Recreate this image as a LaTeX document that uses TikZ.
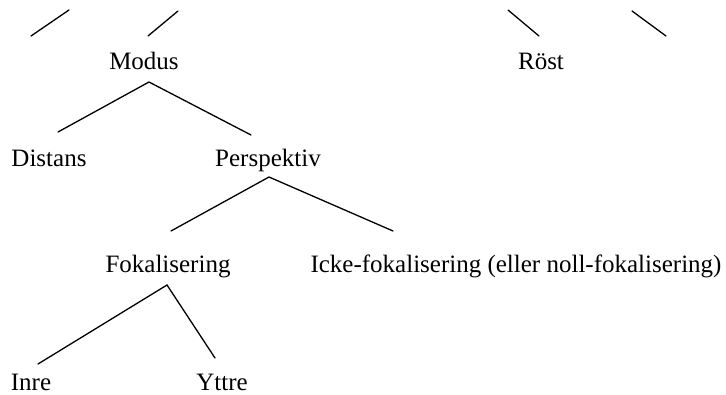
\documentclass[tikz,border=0pt]{standalone}
\usepackage{fontspec}
\setmainfont{Liberation Serif}
\usetikzlibrary{calc}
\begin{document}
\begin{tikzpicture}[x=1pt,y=-1pt,
  lbl/.style={anchor=base,inner sep=0pt,font=\fontsize{25}{30}\selectfont},
  edge/.style={line width=1.3pt,line cap=round}]
\useasboundingbox (0,0) rectangle (726,394);
\node[lbl] (modus) at (144,69) {Modus};
\node[lbl] (rost) at (541,69) {Röst};
\node[lbl] (distans) at (49,166) {Distans};
\node[lbl] (persp) at (268,166) {Perspektiv};
\node[lbl] (fok) at (168,272) {Fokalisering};
\node[lbl] (icke) at (516,272) {Icke-fokalisering (eller noll-fokalisering)};
\node[lbl] (inre) at (31,390) {Inre};
\node[lbl] (yttre) at (222,390) {Yttre};
% fragments at top
\coordinate (t1a) at (31,36); \coordinate (t1b) at (69,10);
\coordinate (t2a) at (148,36); \coordinate (t2b) at (178,11);
\coordinate (t3a) at (508,10); \coordinate (t3b) at (539,36);
\coordinate (t4a) at (632,11); \coordinate (t4b) at (666,36);
\draw[edge] (t1a) -- (t1b);
\draw[edge] (t2a) -- (t2b);
\draw[edge] (t3a) -- (t3b);
\draw[edge] (t4a) -- (t4b);
% tree
\draw[edge] ($(distans.base)+(9,-34)$) -- ($(modus.base)+(5,13)$) -- ($(persp.base)+(-17,-31)$);
\draw[edge] ($(fok.base)+(3,-41)$) -- ($(persp.base)+(1,11)$) -- ($(icke.base)+(-123,-41)$);
\draw[edge] ($(inre.base)+(7,-26)$) -- ($(fok.base)+(-1,13)$) -- ($(yttre.base)+(-7,-32)$);
\end{tikzpicture}
\end{document}
